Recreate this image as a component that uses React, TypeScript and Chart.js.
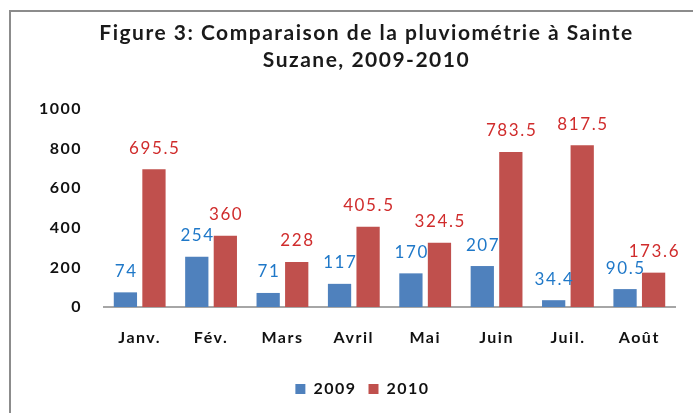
import { useEffect, useRef } from 'react';
import { Chart, registerables } from 'chart.js';

Chart.register(...registerables);

const categories = ['Janv.', 'Fév.', 'Mars', 'Avril', 'Mai', 'Juin', 'Juil.', 'Août'];
const values2009 = [74, 254, 71, 117, 170, 207, 34.4, 90.5];
const values2010 = [695.5, 360, 228, 405.5, 324.5, 783.5, 817.5, 173.6];
const seriesNames = ['2009', '2010'];
const titleLines = ['Figure 3: Comparaison de la pluviométrie à Sainte', 'Suzane, 2009-2010'];
const yMin = 0;
const yMax = 1000;
const yStep = 200;

const barColors = ['#4F81BD', '#C0504D'];
const labelColors = ['#1f78c8', '#d02c2c'];

const spacing = {
  id: 'spacing',
  beforeUpdate(chart: any) { (chart.ctx as any).letterSpacing = '1.5px'; },
  beforeDraw(chart: any) { (chart.ctx as any).letterSpacing = '1.5px'; },
  afterLayout(chart: any) {
    if (chart.titleBlock) { chart.titleBlock.left += 19; chart.titleBlock.right += 19; }
    if (chart.legend) { chart.legend.left += 15; chart.legend.right += 15; }
  },
};

const valueLabels = {
  id: 'valueLabels',
  afterDatasetsDraw(chart: any) {
    const ctx = chart.ctx;
    ctx.save();
    ctx.font = '17px Lato';
    (ctx as any).letterSpacing = '1.6px';
    ctx.textAlign = 'center';
    ctx.textBaseline = 'middle';
    chart.data.datasets.forEach((ds: any, i: number) => {
      const meta = chart.getDatasetMeta(i);
      meta.data.forEach((el: any, j: number) => {
        ctx.fillStyle = labelColors[i];
        ctx.fillText(String(ds.data[j]), el.x + 0.8, el.y - 21);
      });
    });
    ctx.restore();
  },
};

export default function App() {
  const ref = useRef<HTMLCanvasElement>(null);
  useEffect(() => {
    const font = (size: number, weight: any = 'bold') => ({ family: 'Lato', size, weight });
    const chart = new Chart(ref.current as HTMLCanvasElement, {
      type: 'bar',
      data: {
        labels: categories,
        datasets: [
          { label: seriesNames[0], data: values2009, backgroundColor: barColors[0], borderWidth: 0, categoryPercentage: 0.8, barPercentage: 0.815 },
          { label: seriesNames[1], data: values2010, backgroundColor: barColors[1], borderWidth: 0, categoryPercentage: 0.8, barPercentage: 0.815 },
        ],
      },
      options: {
        animation: false,
        responsive: false,
        layout: { padding: { left: 20, right: 18, top: 0, bottom: 6 } },
        plugins: {
          title: {
            display: true,
            text: titleLines,
            font: { family: 'Lato', size: 21, weight: 'bold', lineHeight: 1.3 },
            color: '#1a1a1a',
            padding: { top: 19.5, bottom: 35 },
          },
          legend: {
            position: 'bottom',
            labels: { boxWidth: 10, boxHeight: 10, padding: 12, font: font(16), color: '#111' },
          },
          tooltip: { enabled: false },
        },
        scales: {
          x: {
            grid: { display: false, drawTicks: false },
            border: { display: true, color: '#a6a6a6', width: 2 },
            ticks: { padding: 21, font: font(16), color: '#111' },
            afterFit(s: any) { s.height = 62; },
          },
          y: {
            min: yMin,
            max: yMax,
            grid: { display: false, drawTicks: false },
            border: { display: false },
            ticks: { stepSize: yStep, padding: 22, font: font(16), color: '#111', callback: (v: any) => String(v) },
            afterFit(s: any) { s.width = 84; },
          },
        },
      } as any,
      plugins: [spacing, valueLabels],
    });
    return () => chart.destroy();
  }, []);
  return (
    <div style={{ position: 'fixed', left: 0, top: 0, width: 693, height: 413, overflow: 'hidden', background: '#fff' }}>
      <div style={{ position: 'absolute', left: 9, top: 10, width: 1000, height: 1000, border: '2px solid #8c8c8c' }} />
      <canvas ref={ref} width={693} height={413} style={{ position: 'absolute', left: 0, top: 0, width: 693, height: 413 }} />
    </div>
  );
}
